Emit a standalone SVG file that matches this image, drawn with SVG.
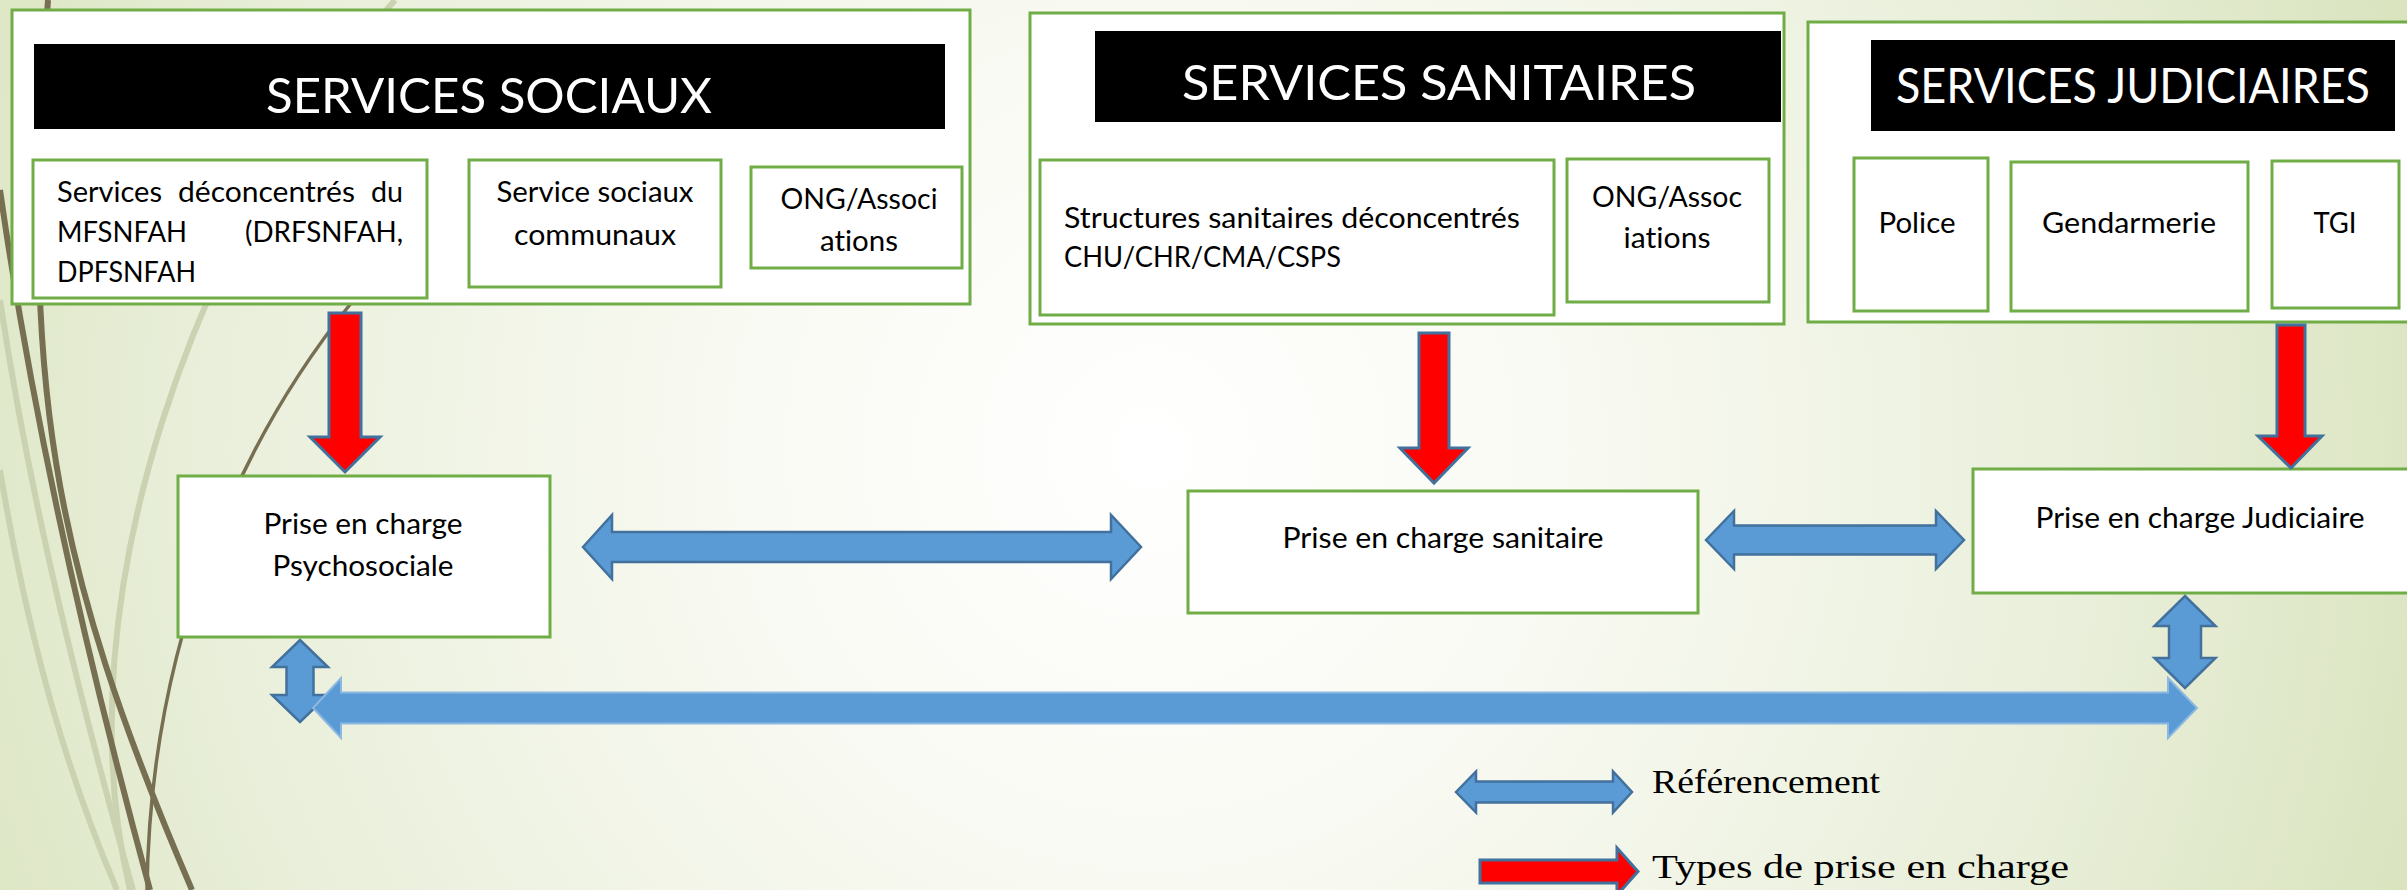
<svg xmlns="http://www.w3.org/2000/svg" width="2407" height="890" viewBox="0 0 2407 890">
<defs>
<radialGradient id="bg" gradientUnits="userSpaceOnUse" cx="1150" cy="450" r="1350">
<stop offset="0" stop-color="#FFFFFF"/>
<stop offset="0.3" stop-color="#F9FAF3"/>
<stop offset="0.7" stop-color="#E9EFDA"/>
<stop offset="1" stop-color="#D9E3BD"/>
</radialGradient>
<style>
text{font-variant-ligatures:none;font-feature-settings:"liga" 0,"clig" 0}
.box{fill:#FFFFFF;stroke:#70AD47;stroke-width:3}
.bar{fill:#000000}
.title{font-family:Lato,"Open Sans","Noto Sans",sans-serif;font-size:49px;fill:#FFFFFF}
.t{font-family:Lato,"Open Sans","Noto Sans",sans-serif;font-size:29px;fill:#000000}
.leg{font-family:"Liberation Serif","DejaVu Serif",serif;font-size:34px;fill:#000000}
.red{fill:#FF0000;stroke:#41719C;stroke-width:3;stroke-linejoin:miter}
.blue{fill:#5B9BD5;stroke:#41719C;stroke-width:2.5}
.bigblue{fill:#5B9BD5;stroke:#8DB8E2;stroke-width:2}
.dk{fill:none;stroke:#776F52}
.pl{fill:none;stroke:#CBD2B2}
</style>
</defs>
<rect x="0" y="0" width="2407" height="890" fill="url(#bg)"/>
<g id="decoration">
<path class="pl" stroke-width="6" d="M 395 0 C 200 220, 60 600, 130 890"/>
<path class="pl" stroke-width="6" d="M 0 300 C 30 500, 80 700, 133 890"/>
<path class="pl" stroke-width="6" d="M 0 470 C 30 650, 70 780, 117 890"/>
<path class="dk" stroke-width="6" d="M 0 190 C 20 330, 60 560, 150 890"/>
<path class="dk" stroke-width="6" d="M 48 0 C 20 380, 50 560, 192 890"/>
<path class="dk" stroke-width="3.5" d="M 420 220 C 390 250, 370 280, 352 302 C 240 440, 150 640, 147 890"/>
</g>
<g id="services-sociaux">
<rect class="box" x="12" y="10" width="958" height="294"/>
<rect class="bar" x="34" y="44" width="911" height="85"/>
<text class="title" x="489" y="113" text-anchor="middle" textLength="446" lengthAdjust="spacingAndGlyphs">SERVICES SOCIAUX</text>
</g>
<g id="services-deconcentres">
<rect class="box" x="33" y="160" width="394" height="138"/>
<text class="t" x="57" y="202" textLength="105" lengthAdjust="spacingAndGlyphs">Services</text>
<text class="t" x="178" y="202" textLength="177" lengthAdjust="spacingAndGlyphs">déconcentrés</text>
<text class="t" x="403" y="202" text-anchor="end" textLength="32" lengthAdjust="spacingAndGlyphs">du</text>
<text class="t" x="57" y="242" textLength="130" lengthAdjust="spacingAndGlyphs">MFSNFAH</text>
<text class="t" x="403" y="242" text-anchor="end" textLength="158" lengthAdjust="spacingAndGlyphs">(DRFSNFAH,</text>
<text class="t" x="57" y="282" textLength="139" lengthAdjust="spacingAndGlyphs">DPFSNFAH</text>
</g>
<g id="service-sociaux-communaux">
<rect class="box" x="469" y="160" width="252" height="127"/>
<text class="t" x="595" y="202" text-anchor="middle" textLength="197" lengthAdjust="spacingAndGlyphs">Service sociaux</text>
<text class="t" x="595" y="245" text-anchor="middle" textLength="162" lengthAdjust="spacingAndGlyphs">communaux</text>
</g>
<g id="ong-sociaux">
<rect class="box" x="751" y="167" width="211" height="101"/>
<text class="t" x="859" y="209" text-anchor="middle" textLength="157" lengthAdjust="spacingAndGlyphs">ONG/Associ</text>
<text class="t" x="859" y="251" text-anchor="middle" textLength="78" lengthAdjust="spacingAndGlyphs">ations</text>
</g>
<g id="services-sanitaires">
<rect class="box" x="1030" y="13" width="754" height="311"/>
<rect class="bar" x="1095" y="31" width="686" height="91"/>
<text class="title" x="1439" y="100" text-anchor="middle" textLength="514" lengthAdjust="spacingAndGlyphs">SERVICES SANITAIRES</text>
</g>
<g id="structures-sanitaires">
<rect class="box" x="1040" y="160" width="514" height="155"/>
<text class="t" x="1064" y="228" textLength="456" lengthAdjust="spacingAndGlyphs">Structures sanitaires déconcentrés</text>
<text class="t" x="1064" y="267" textLength="277" lengthAdjust="spacingAndGlyphs">CHU/CHR/CMA/CSPS</text>
</g>
<g id="ong-sanitaires">
<rect class="box" x="1567" y="159" width="202" height="143"/>
<text class="t" x="1667" y="207" text-anchor="middle" textLength="150" lengthAdjust="spacingAndGlyphs">ONG/Assoc</text>
<text class="t" x="1667" y="248" text-anchor="middle" textLength="87" lengthAdjust="spacingAndGlyphs">iations</text>
</g>
<g id="services-judiciaires">
<rect class="box" x="1808" y="22" width="620" height="300"/>
<rect class="bar" x="1871" y="40" width="524" height="91"/>
<text class="title" x="2133" y="103" text-anchor="middle" textLength="474" lengthAdjust="spacingAndGlyphs">SERVICES JUDICIAIRES</text>
</g>
<g id="police">
<rect class="box" x="1854" y="158" width="134" height="153"/>
<text class="t" x="1917" y="233" text-anchor="middle" textLength="77" lengthAdjust="spacingAndGlyphs">Police</text>
</g>
<g id="gendarmerie">
<rect class="box" x="2011" y="162" width="237" height="149"/>
<text class="t" x="2129" y="233" text-anchor="middle" textLength="174" lengthAdjust="spacingAndGlyphs">Gendarmerie</text>
</g>
<g id="tgi">
<rect class="box" x="2272" y="161" width="127" height="147"/>
<text class="t" x="2335" y="233" text-anchor="middle" textLength="43" lengthAdjust="spacingAndGlyphs">TGI</text>
</g>
<g id="prise-psychosociale">
<rect class="box" x="178" y="476" width="372" height="161"/>
<text class="t" x="363" y="534" text-anchor="middle" textLength="199" lengthAdjust="spacingAndGlyphs">Prise en charge</text>
<text class="t" x="363" y="576" text-anchor="middle" textLength="181" lengthAdjust="spacingAndGlyphs">Psychosociale</text>
</g>
<g id="prise-sanitaire">
<rect class="box" x="1188" y="491" width="510" height="122"/>
<text class="t" x="1443" y="548" text-anchor="middle" textLength="321" lengthAdjust="spacingAndGlyphs">Prise en charge sanitaire</text>
</g>
<g id="prise-judiciaire">
<rect class="box" x="1973" y="469" width="460" height="124"/>
<text class="t" x="2200" y="528" text-anchor="middle" textLength="329" lengthAdjust="spacingAndGlyphs">Prise en charge Judiciaire</text>
</g>
<g id="connectors">
<polygon class="red" points="329,313 361,313 361,437 380,437 345,472 310,437 329,437"/>
<polygon class="red" points="1419,333 1449,333 1449,448 1468,448 1434,483 1400,448 1419,448"/>
<polygon class="red" points="2277,325 2305,325 2305,436 2322,436 2291,468 2258,436 2277,436"/>
<polygon class="blue" points="583,547 612,515 612,532 1111,532 1111,515 1141,547 1111,579 1111,562 612,562 612,579"/>
<polygon class="blue" points="1706,540 1734,511 1734,525.5 1936,525.5 1936,511 1964,540 1936,569 1936,554.5 1734,554.5 1734,569"/>
<polygon class="blue" points="300,640 328,667 313.5,667 313.5,695 328,695 300,722 272,695 286.5,695 286.5,667 272,667"/>
<polygon class="blue" points="2185,596 2215.5,626 2201,626 2201,658 2215.5,658 2185,688 2154.5,658 2169,658 2169,626 2154.5,626"/>
<polygon class="bigblue" points="313,708 341,678 341,692.5 2168,692.5 2168,678 2197,708 2168,738 2168,723.5 341,723.5 341,738"/>
</g>
<g id="legend">
<polygon class="blue" points="1456,792 1476,771.5 1476,781.5 1613,781.5 1613,771.5 1632,792 1613,812.5 1613,802.5 1476,802.5 1476,812.5"/>
<text class="leg" x="1652" y="793" textLength="228" lengthAdjust="spacingAndGlyphs">Référencement</text>
<polygon class="red" points="1480,860 1617,860 1617,848 1638,871.5 1617,895 1617,883 1480,883"/>
<text class="leg" x="1652" y="878" textLength="417" lengthAdjust="spacingAndGlyphs">Types de prise en charge</text>
</g>
</svg>
